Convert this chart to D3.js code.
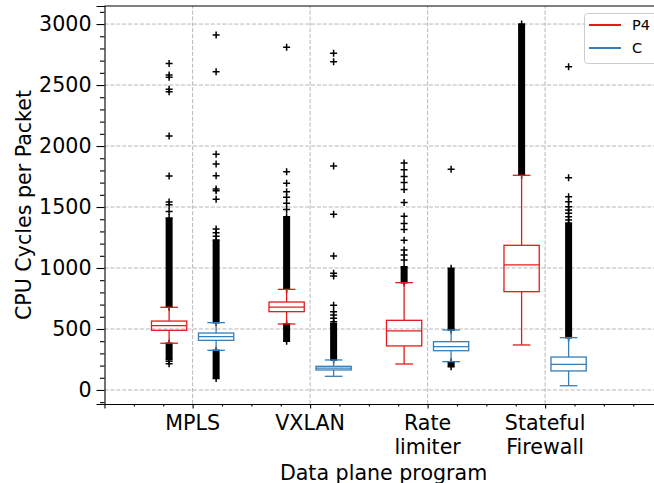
<!DOCTYPE html>
<html><head><meta charset="utf-8">
<script src="https://cdn.jsdelivr.net/npm/d3@7"></script>
<style>body{margin:0;background:#fff}svg{display:block}text{font-family:"DejaVu Sans",sans-serif;fill:#000}</style>
</head><body><svg id="c" width="654" height="483"></svg>
<script>
// ---- data ----
const categories = [["MPLS"], ["VXLAN"], ["Rate", "limiter"], ["Stateful", "Firewall"]];
const seriesNames = ["P4", "C"];
const seriesColors = ["#e41a1c", "#377eb8"];
// box statistics, order: MPLS, VXLAN, Rate limiter, Stateful Firewall
const p4WhiskerLow  = [383, 541, 213, 369];
const p4Q1          = [489, 642, 361, 806];
const p4Median      = [527, 680, 484, 1025];
const p4Q3          = [565, 721, 571, 1186];
const p4WhiskerHigh = [678, 825, 880, 1760];
const cWhiskerLow   = [325, 112, 232, 35];
const cQ1           = [407, 164, 322, 156];
const cMedian       = [437, 179, 355, 210];
const cQ3           = [467, 194, 396, 270];
const cWhiskerHigh  = [552, 246, 492, 429];
// runs of outliers so dense they merge into a solid column: [from, to]
const p4DenseHigh = [[678, 1410], [825, 1420], [880, 1010], [1760, 3000]];
const p4DenseLow  = [[250, 383], [400, 541], null, null];
const cDenseHigh  = [[552, 1230], [246, 546], [492, 997], [429, 1369]];
const cDenseLow   = [[95, 325], null, [191, 232], null];
// individually visible outliers
const p4Fliers = [
  [215, 235, 1464, 1519, 1541, 1754, 2082, 2445, 2465, 2563, 2582, 2677],
  [1480, 1530, 1580, 1625, 1694, 1790, 2810],
  [1066, 1107, 1148, 1228, 1315, 1364, 1424, 1536, 1643, 1700, 1751, 1806, 1861],
  []
];
const cFliers = [
  [1260, 1290, 1320, 1563, 1634, 1648, 1757, 1852, 1932, 2609, 2910],
  [560, 588, 615, 642, 694, 934, 956, 1098, 1440, 1836, 2691, 2760],
  [1809],
  [1394, 1421, 1448, 1475, 1503, 1544, 1585, 1740, 2650]
];
const yTicks = [0, 500, 1000, 1500, 2000, 2500, 3000];
const xTicks = [1, 2, 3, 4];
const yLabel = "CPU Cycles per Packet";
const xLabel = "Data plane program";

// ---- drawing ----
const svg = d3.select("#c");
const X0 = 0.25, X1 = 5.0, Y0 = -115, Y1 = 3148;
const x = d3.scaleLinear().domain([X0, X1]).range([104.5, 662.6]);
const y = d3.scaleLinear().domain([Y0, Y1]).range([404, 6]);
const FS = 20.6;

const series = [
  {lo: p4WhiskerLow, q1: p4Q1, med: p4Median, q3: p4Q3, hi: p4WhiskerHigh, dh: p4DenseHigh, dl: p4DenseLow, fl: p4Fliers, off: -0.2},
  {lo: cWhiskerLow, q1: cQ1, med: cMedian, q3: cQ3, hi: cWhiskerHigh, dh: cDenseHigh, dl: cDenseLow, fl: cFliers, off: 0.2}
];

// grid
const grid = svg.append("g").attr("stroke", "#b0b0b0").attr("stroke-width", 0.9).attr("stroke-dasharray", "4.1,1.8");
yTicks.forEach(t => grid.append("line").attr("x1", x(X0)).attr("x2", x(X1)).attr("y1", y(t)).attr("y2", y(t)));
xTicks.forEach(t => grid.append("line").attr("x1", x(t)).attr("x2", x(t)).attr("y1", y(Y0)).attr("y2", y(Y1)));

// axes via d3
const yMinor = d3.range(-100, 3101, 100).filter(v => v % 500 !== 0);
const yAxis = d3.axisLeft(y).tickValues(yTicks).tickSize(8).tickPadding(5).tickFormat(d3.format("d"));
const yAxisMinor = d3.axisLeft(y).tickValues(yMinor).tickSize(4.5).tickFormat("");
const gy = svg.append("g").attr("transform", `translate(${x(X0)},0)`).call(yAxis);
svg.append("g").attr("transform", `translate(${x(X0)},0)`).call(yAxisMinor).select(".domain").remove();
gy.selectAll("text").attr("font-size", FS).attr("font-family", "DejaVu Sans").attr("fill", "#000");

const xMinor = d3.range(0.5, 5.01, 0.25).filter(v => !xTicks.includes(v));
const xAxis = d3.axisBottom(x).tickValues(xTicks).tickSize(4.5).tickFormat("");
const xAxisMinor = d3.axisBottom(x).tickValues(xMinor).tickSize(2.5).tickFormat("");
const gx = svg.append("g").attr("transform", `translate(0,${y(Y0)})`).call(xAxis);
svg.append("g").attr("transform", `translate(0,${y(Y0)})`).call(xAxisMinor).select(".domain").remove();
svg.selectAll(".domain").attr("stroke", "#000").attr("stroke-width", 1.1);
svg.selectAll(".tick line").attr("stroke", "#000").attr("stroke-width", 1.1);

// top and right spines
svg.append("line").attr("x1", x(X0)).attr("x2", x(X1)).attr("y1", y(Y1)).attr("y2", y(Y1)).attr("stroke", "#000").attr("stroke-width", 1.1);
svg.append("line").attr("x1", x(X1)).attr("x2", x(X1)).attr("y1", y(Y0)).attr("y2", y(Y1)).attr("stroke", "#000").attr("stroke-width", 1.1);

// x category labels
categories.forEach((lines, i) => {
  const t = svg.append("text").attr("x", x(xTicks[i])).attr("y", 429.5).attr("text-anchor", "middle").attr("font-size", FS);
  lines.forEach((ln, j) => t.append("tspan").attr("x", x(xTicks[i])).attr("dy", j === 0 ? 0 : 24).text(ln));
});

// axis labels
svg.append("text").attr("x", (x(X0) + x(X1)) / 2).attr("y", 479.5).attr("text-anchor", "middle").attr("font-size", FS).text(xLabel);
svg.append("text").attr("transform", `translate(30.5,${(y(Y0) + y(Y1)) / 2}) rotate(-90)`).attr("text-anchor", "middle").attr("font-size", FS).text(yLabel);

// plus marker
function plus(g, cx, cy) {
  g.append("path").attr("d", `M${cx - 3.5},${cy}H${cx + 3.5}M${cx},${cy - 3.5}V${cy + 3.5}`)
    .attr("stroke", "#000").attr("stroke-width", 1.5).attr("fill", "none");
}

const boxW = x(1.3) - x(1);
const capW = x(1.15) - x(1);
series.forEach((s, si) => {
  const col = seriesColors[si];
  const g = svg.append("g");
  categories.forEach((c, i) => {
    const cx = x(xTicks[i] + s.off);
    // outliers
    [s.dh[i], s.dl[i]].forEach(r => {
      if (!r) return;
      g.append("rect").attr("x", cx - 3.5).attr("width", 7).attr("y", y(r[1])).attr("height", y(r[0]) - y(r[1])).attr("fill", "#000");
      plus(g, cx, y(r[0])); plus(g, cx, y(r[1]));
    });
    s.fl[i].forEach(v => plus(g, cx, y(v)));
    // whiskers
    g.append("line").attr("x1", cx).attr("x2", cx).attr("y1", y(s.q1[i])).attr("y2", y(s.lo[i])).attr("stroke", col).attr("stroke-width", 1.3);
    g.append("line").attr("x1", cx).attr("x2", cx).attr("y1", y(s.q3[i])).attr("y2", y(s.hi[i])).attr("stroke", col).attr("stroke-width", 1.3);
    [s.lo[i], s.hi[i]].forEach(v => g.append("line").attr("x1", cx - capW / 2).attr("x2", cx + capW / 2).attr("y1", y(v)).attr("y2", y(v)).attr("stroke", col).attr("stroke-width", 1.3));
    // box
    g.append("rect").attr("x", cx - boxW / 2).attr("width", boxW).attr("y", y(s.q3[i])).attr("height", y(s.q1[i]) - y(s.q3[i]))
      .attr("fill", "none").attr("stroke", col).attr("stroke-width", 1.3);
    g.append("line").attr("x1", cx - boxW / 2).attr("x2", cx + boxW / 2).attr("y1", y(s.med[i])).attr("y2", y(s.med[i])).attr("stroke", col).attr("stroke-width", 1.3);
  });
});

// legend
const lg = svg.append("g");
lg.append("rect").attr("x", 584.5).attr("y", 13.5).attr("width", 100).attr("height", 50).attr("rx", 3)
  .attr("fill", "#fff").attr("fill-opacity", 0.8).attr("stroke", "#cccccc").attr("stroke-width", 1);
seriesNames.forEach((n, i) => {
  const ly = 25 + i * 23;
  lg.append("line").attr("x1", 589).attr("x2", 621).attr("y1", ly).attr("y2", ly).attr("stroke", seriesColors[i]).attr("stroke-width", 2);
  lg.append("text").attr("x", 632).attr("y", ly).attr("dy", "0.36em").attr("font-size", 14.5).text(n);
});
</script></body></html>
